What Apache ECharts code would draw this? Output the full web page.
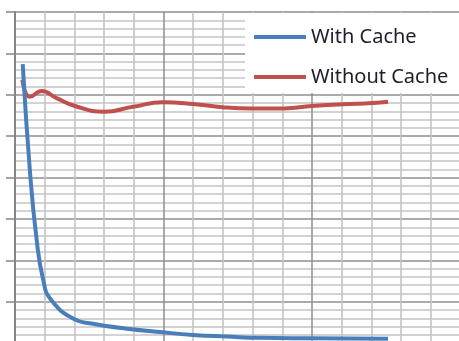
<!DOCTYPE html>
<html>
<head>
<meta charset="utf-8">
<script src="https://cdn.jsdelivr.net/npm/echarts@6/dist/echarts.min.js"></script>
<style>
  html, body { margin: 0; padding: 0; background: #ffffff; }
  #chart { width: 459px; height: 341px; }
</style>
</head>
<body>
<div id="chart"></div>
<script>
// Measurement positions along the horizontal axis
const stepsWith = [0.26, 0.5, 0.73, 0.95, 1.2, 2.02, 2.63, 3.0, 3.77, 4.88, 5.99, 7.14, 8.25, 10.0, 12.56];
const withCache = [67.4, 41.8, 24.9, 15.3, 10.6, 5.7, 4.7, 4.2, 3.5, 2.7, 2.0, 1.6, 1.3, 1.2, 1.1];

const stepsWithout = [0.25, 0.5, 0.9, 1.4, 2.02, 3.0, 3.97, 4.98, 5.99, 7.0, 7.98, 9.06, 10.0, 11.04, 12.05, 12.56];
const withoutCache = [63.6, 59.5, 60.9, 59.2, 57.3, 55.9, 57.1, 58.2, 57.8, 57.0, 56.7, 56.7, 57.3, 57.7, 58.0, 58.3];

const seriesNames = ['With Cache', 'Without Cache'];

const pairs = (xs, ys) => xs.map((x, i) => [x, ys[i]]);

const chart = echarts.init(document.getElementById('chart'), null, { renderer: 'canvas' });

const majorLine = { show: true, lineStyle: { color: '#8e8e8e', width: 1.5 } };
const minorLine = { show: true, lineStyle: { color: '#c4c4c4', width: 1.6 } };

chart.setOption({
  animation: false,
  backgroundColor: '#ffffff',
  grid: {
    left: 15, top: 12, width: 445.5, height: 331.2,
    containLabel: false, outerBoundsMode: 'none'
  },
  xAxis: {
    type: 'value', min: 0, max: 15, interval: 5,
    axisLine: { show: false },
    axisTick: { show: false },
    axisLabel: { show: false },
    splitLine: majorLine,
    minorTick: { show: false, splitNumber: 5 },
    minorSplitLine: minorLine
  },
  yAxis: {
    type: 'value', min: 0, max: 80, interval: 10,
    axisLine: { show: true, lineStyle: { color: '#868686', width: 2 } },
    axisTick: { show: true, inside: false, length: 9, lineStyle: { color: '#868686', width: 1.5 } },
    axisLabel: { show: false },
    splitLine: majorLine,
    minorTick: { show: false, splitNumber: 5 },
    minorSplitLine: minorLine
  },
  legend: {
    data: seriesNames,
    orient: 'vertical',
    left: 245, top: 13,
    padding: [14, 40, 6, 9],
    backgroundColor: '#ffffff',
    icon: 'rect',
    itemWidth: 52, itemHeight: 4,
    itemGap: 20,
    textStyle: {
      fontFamily: 'Noto Sans', fontSize: 20, color: '#1e1e2a', lineHeight: 20
    }
  },
  series: [
    {
      name: 'Without Cache', type: 'line',
      data: pairs(stepsWithout, withoutCache),
      smooth: 0.5,
      showSymbol: false, symbol: 'none',
      lineStyle: { color: '#c0504d', width: 4 },
      itemStyle: { color: '#c0504d' },
      z: 2
    },
    {
      name: 'With Cache', type: 'line',
      data: pairs(stepsWith, withCache),
      smooth: 0.5,
      showSymbol: false, symbol: 'none',
      lineStyle: { color: '#4a7ebb', width: 4 },
      itemStyle: { color: '#4a7ebb' },
      z: 3
    }
  ]
});
</script>
</body>
</html>
